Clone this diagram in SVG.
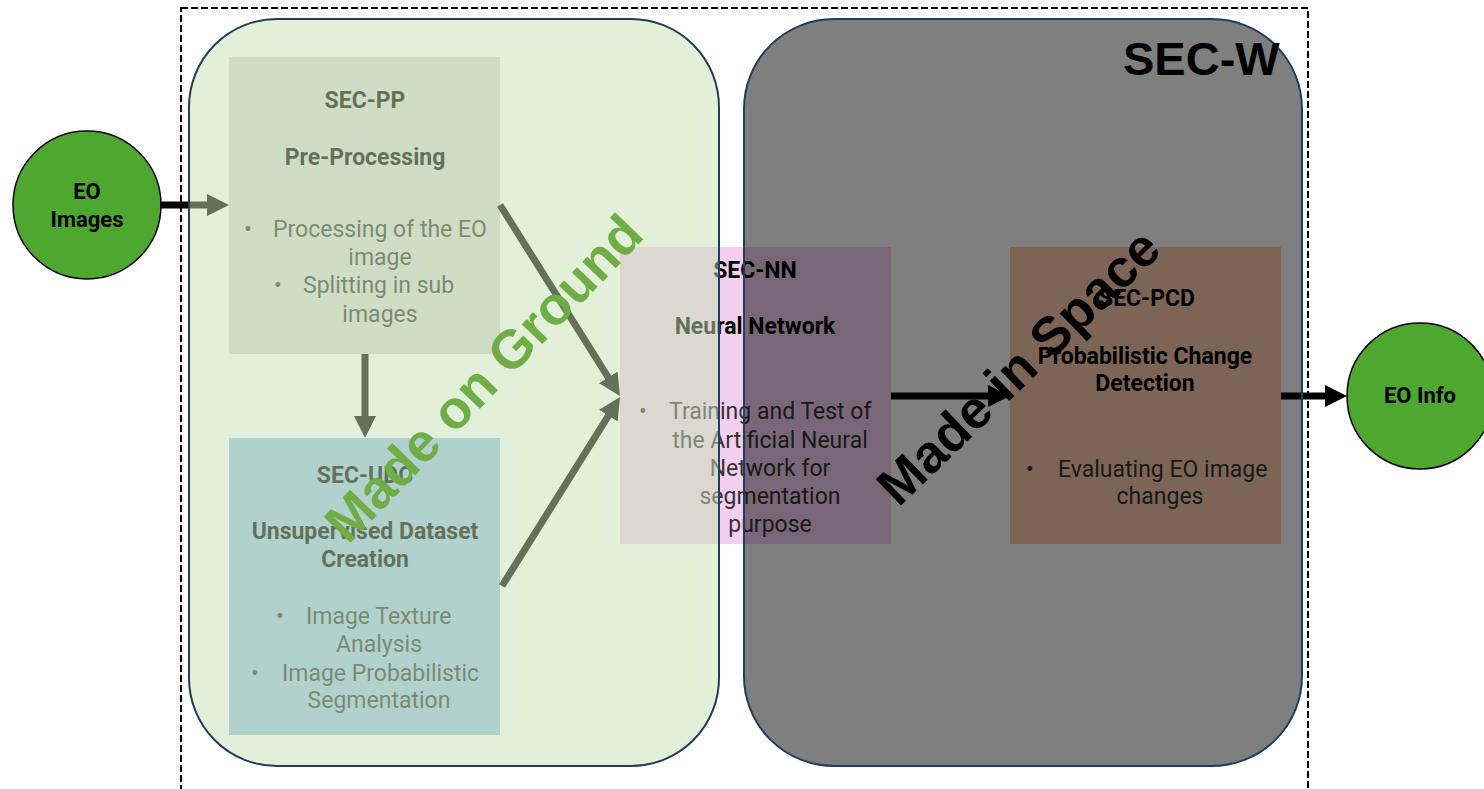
<svg xmlns="http://www.w3.org/2000/svg" width="1484" height="789" viewBox="0 0 1484 789">
<style>
.t{font-family:Roboto,"Liberation Sans",sans-serif;font-weight:700;font-size:23px;fill:#000;text-anchor:middle}
.b{font-family:Roboto,"Liberation Sans",sans-serif;font-weight:400;font-size:23px;fill:#333}
.c{text-anchor:middle}
.circ{fill:#4EA72E;stroke:#000;stroke-width:1.5}
.ct{font-family:Roboto,"Liberation Sans",sans-serif;font-weight:700;font-size:22px;fill:#000;text-anchor:middle}
.arr{stroke:#000;stroke-width:7;fill:none;marker-end:url(#ah)}
.big{font-family:"Liberation Sans",Arial,sans-serif;font-weight:700}
</style>
<defs>
<marker id="ah" markerUnits="userSpaceOnUse" markerWidth="22" markerHeight="22" refX="4" refY="11" orient="auto">
<path d="M0,0 L22,11 L0,22 Z" fill="#000"/>
</marker>
</defs>
<rect width="1484" height="789" fill="#fff"/>
<g id="sec-w-frame">
<rect x="181" y="8" width="1127" height="800" fill="none" stroke="#000" stroke-width="2" stroke-dasharray="7 3"/>
</g>
<g id="eo-images">
<circle class="circ" cx="87" cy="205" r="74"/>
<text class="ct" x="87" y="199">EO</text>
<text class="ct" x="87" y="227">Images</text>
</g>
<g id="eo-info">
<circle class="circ" cx="1420" cy="396" r="73"/>
<text class="ct" x="1420" y="403">EO Info</text>
</g>
<g id="sec-pp">
<rect x="229" y="57" width="271" height="297" fill="#D9D9D9"/>
<text class="t" x="365" y="108">SEC-PP</text>
<text class="t" x="365" y="165">Pre-Processing</text>
<text class="b c" x="248" y="237">•</text>
<text class="b" x="273" y="237">Processing of the EO</text>
<text class="b c" x="380" y="265">image</text>
<text class="b c" x="278" y="293">•</text>
<text class="b" x="303" y="293">Splitting in sub</text>
<text class="b c" x="380" y="322">images</text>
</g>
<g id="sec-udc">
<rect x="229" y="438" width="271" height="297" fill="#9DC3E6"/>
<text class="t" x="365" y="483">SEC-UDC</text>
<text class="t" x="365" y="539">Unsupervised Dataset</text>
<text class="t" x="365" y="567">Creation</text>
<text class="b c" x="280" y="624">•</text>
<text class="b" x="306" y="624">Image Texture</text>
<text class="b c" x="379" y="652">Analysis</text>
<text class="b c" x="255" y="681">•</text>
<text class="b" x="282" y="681">Image Probabilistic</text>
<text class="b c" x="379" y="708">Segmentation</text>
</g>
<g id="sec-nn">
<rect x="620" y="247" width="271" height="297" fill="#F2CEEF"/>
<text class="t" x="755" y="278">SEC-NN</text>
<text class="t" x="755" y="334">Neural Network</text>
<text class="b c" x="643" y="419">•</text>
<text class="b" x="669" y="419">Training and Test of</text>
<text class="b c" x="770" y="448">the Artificial Neural</text>
<text class="b c" x="770" y="476">Network for</text>
<text class="b c" x="770" y="504">segmentation</text>
<text class="b c" x="770" y="532">purpose</text>
</g>
<g id="sec-pcd">
<rect x="1010" y="247" width="271" height="297" fill="#F8CBAD"/>
<text class="t" x="1147" y="306">SEC-PCD</text>
<text class="t" x="1145" y="364">Probabilistic Change</text>
<text class="t" x="1145" y="391">Detection</text>
<text class="b c" x="1030" y="477">•</text>
<text class="b" x="1058" y="477">Evaluating EO image</text>
<text class="b c" x="1160" y="504">changes</text>
</g>
<g id="connectors">
<line class="arr" x1="160" y1="205" x2="211" y2="205"/>
<line class="arr" x1="365" y1="354" x2="365" y2="420"/>
<line class="arr" x1="500" y1="205" x2="610.4" y2="380.8"/>
<line class="arr" x1="502" y1="586" x2="610.5" y2="412.3"/>
<line class="arr" x1="891" y1="396" x2="992" y2="396"/>
<line class="arr" x1="1281" y1="396" x2="1329" y2="396"/>
</g>
<g id="made-on-ground">
<rect x="189" y="19" width="530" height="747" rx="88" ry="88" fill="#C5E0B4" fill-opacity="0.5" stroke="#203D5E" stroke-width="2"/>
</g>
<g id="made-in-space">
<rect x="744" y="19" width="558" height="747" rx="90" ry="90" fill="#000" fill-opacity="0.5" stroke="#203D5E" stroke-width="2"/>
</g>
<g id="labels">
<text class="big" x="1123" y="75" font-size="47" fill="#000">SEC-W</text>
<text class="big" transform="translate(497,391) rotate(-46)" text-anchor="middle" font-size="54" fill="#70AD47">Made on Ground</text>
<text class="big" transform="translate(1031,380) rotate(-44)" text-anchor="middle" font-size="53" fill="#000">Made in Space</text>
</g>
</svg>
